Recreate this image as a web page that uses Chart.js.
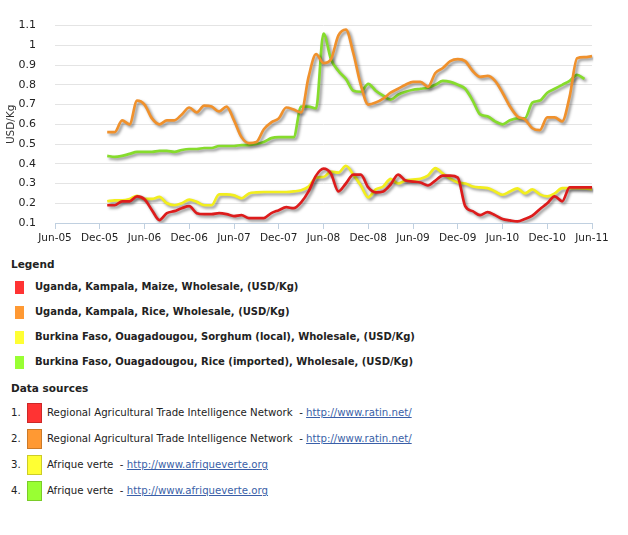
<!DOCTYPE html>
<html>
<head>
<meta charset="utf-8">
<script src="https://cdn.jsdelivr.net/npm/chart.js@4"></script>
<style>
    body { margin: 0; background: #fff; font-family: "DejaVu Sans", Verdana, sans-serif; color: #222; }
    #chartBox { position: relative; width: 628px; height: 252px; }
    #info { padding-left: 11px; font-size: 10px; }
    h4 { margin: 4px 0 0 0; font-size: 10.5px; line-height: 16px; font-weight: bold; }
    .legendRow { height: 25px; line-height: 25px; font-weight: bold; padding-left: 4px; }
    .legendRow .sw { display: inline-block; width: 9px; height: 13px; vertical-align: middle; margin-right: 11px; }
    #legendList { margin-top: 2px; }
    #sourceHead { margin-top: 6px; }
    #sourceList { margin-top: 4px; }
    .sourceRow { height: 26px; line-height: 26px; font-size: 10.2px; }
    .sourceRow .num { display: inline-block; width: 16px; }
    .sourceRow .sw { display: inline-block; width: 13px; height: 18px; vertical-align: middle; margin-right: 5px; border: 1px solid rgba(0,0,0,0.2); }
    .sourceRow a { color: #3a5fa8; }
</style>
</head>
<body>
<div id="chartBox"><canvas id="priceChart"></canvas></div>
<div id="info">
    <h4>Legend</h4>
    <div id="legendList"></div>
    <h4 id="sourceHead">Data sources</h4>
    <div id="sourceList"></div>
</div>
<script>
// x axis: every month from Jun-05 to Jun-11, labelled every six months
const monthNames = ['Jan', 'Feb', 'Mar', 'Apr', 'May', 'Jun', 'Jul', 'Aug', 'Sep', 'Oct', 'Nov', 'Dec'];
const axisMonths = [];
for (let y = 5; y <= 11; y++) {
    for (let m = 0; m < 12; m++) {
        if ((y === 5 && m < 5) || (y === 11 && m > 5)) continue;
        axisMonths.push(monthNames[m] + '-' + String(y).padStart(2, '0'));
    }
}
const tickLabels = ['Jun-05', 'Dec-05', 'Jun-06', 'Dec-06', 'Jun-07', 'Dec-07', 'Jun-08', 'Dec-08', 'Jun-09', 'Dec-09', 'Jun-10', 'Dec-10', 'Jun-11'];
const yTicks = [0.1, 0.2, 0.3, 0.4, 0.5, 0.6, 0.7, 0.8, 0.9, 1, 1.1];

// series run monthly from Jan-06 to Jun-11
const dataMonths = axisMonths.slice(axisMonths.indexOf('Jan-06'));

const ugMaize = [0.19, 0.19, 0.21, 0.21, 0.235, 0.22, 0.165, 0.115, 0.15, 0.16,
    0.175, 0.185, 0.15, 0.145, 0.145, 0.15, 0.145, 0.135, 0.14, 0.125,
    0.125, 0.125, 0.15, 0.165, 0.18, 0.175, 0.205, 0.26, 0.34, 0.375,
    0.35, 0.26, 0.30, 0.345, 0.345, 0.28, 0.255, 0.26, 0.295, 0.345,
    0.315, 0.31, 0.305, 0.29, 0.315, 0.34, 0.34, 0.33, 0.185, 0.16,
    0.14, 0.155, 0.14, 0.12, 0.113, 0.108, 0.12, 0.137, 0.17, 0.20,
    0.235, 0.21, 0.28, 0.28, 0.28, 0.28];

const ugRice = [0.56, 0.56, 0.62, 0.60, 0.72, 0.70, 0.63, 0.60, 0.62, 0.62,
    0.65, 0.685, 0.66, 0.695, 0.69, 0.665, 0.69, 0.62, 0.535, 0.505,
    0.51, 0.575, 0.61, 0.63, 0.685, 0.675, 0.66, 0.84, 0.955, 0.91,
    0.93, 1.05, 1.08, 0.96, 0.80, 0.70, 0.71, 0.73, 0.76, 0.78,
    0.80, 0.815, 0.815, 0.79, 0.86, 0.885, 0.92, 0.93, 0.92, 0.87,
    0.84, 0.845, 0.82, 0.76, 0.69, 0.64, 0.625, 0.58, 0.57, 0.635,
    0.635, 0.615, 0.74, 0.935, 0.94, 0.945];

const bfSorghum = [0.21, 0.215, 0.215, 0.222, 0.238, 0.222, 0.222, 0.232, 0.20, 0.19,
    0.20, 0.218, 0.207, 0.19, 0.19, 0.245, 0.245, 0.24, 0.225, 0.25,
    0.255, 0.257, 0.257, 0.257, 0.257, 0.26, 0.266, 0.285, 0.33, 0.333,
    0.36, 0.355, 0.39, 0.345, 0.29, 0.23, 0.27, 0.285, 0.324, 0.30,
    0.316, 0.32, 0.324, 0.34, 0.378, 0.35, 0.324, 0.305, 0.30, 0.285,
    0.28, 0.277, 0.26, 0.243, 0.26, 0.275, 0.25, 0.27, 0.245, 0.235,
    0.25, 0.277, 0.277, 0.277, 0.275, 0.272];

const bfRice = [0.44, 0.435, 0.44, 0.45, 0.46, 0.46, 0.46, 0.465, 0.465, 0.46,
    0.47, 0.475, 0.475, 0.48, 0.48, 0.49, 0.49, 0.49, 0.495, 0.495,
    0.50, 0.51, 0.53, 0.535, 0.535, 0.535, 0.69, 0.69, 0.68, 1.06,
    0.93, 0.87, 0.83, 0.77, 0.765, 0.805, 0.77, 0.745, 0.725, 0.75,
    0.765, 0.775, 0.78, 0.785, 0.80, 0.82, 0.815, 0.80, 0.78, 0.72,
    0.65, 0.64, 0.615, 0.60, 0.62, 0.63, 0.63, 0.71, 0.72, 0.76,
    0.78, 0.80, 0.82, 0.85, 0.83, null];

const seriesNames = [
    'Uganda, Kampala, Maize, Wholesale, (USD/Kg)',
    'Uganda, Kampala, Rice, Wholesale, (USD/Kg)',
    'Burkina Faso, Ouagadougou, Sorghum (local), Wholesale, (USD/Kg)',
    'Burkina Faso, Ouagadougou, Rice (imported), Wholesale, (USD/Kg)'
];
const seriesValues = [ugMaize, ugRice, bfSorghum, bfRice];
const lineColors = ['#dd1c1c', '#f0912c', '#f2ee1e', '#86dc2c'];
const swatchColors = ['#ff3333', '#ff9933', '#ffff33', '#99ff33'];
const sources = [
    ['Regional Agricultural Trade Intelligence Network', 'http://www.ratin.net/'],
    ['Regional Agricultural Trade Intelligence Network', 'http://www.ratin.net/'],
    ['Afrique verte', 'http://www.afriqueverte.org'],
    ['Afrique verte', 'http://www.afriqueverte.org']
];

// soft drop shadow under each line
const lineShadow = {
    id: 'lineShadow',
    beforeDatasetDraw(chart) {
        const c = chart.ctx;
        c.save();
        c.shadowColor = 'rgba(0, 0, 0, 0.45)';
        c.shadowBlur = 3;
        c.shadowOffsetX = 2;
        c.shadowOffsetY = 2;
    },
    afterDatasetDraw(chart) {
        chart.ctx.restore();
    }
};

const ctx = document.getElementById('priceChart').getContext('2d');
const priceChart = new Chart(ctx, {
    type: 'line',
    data: {
        labels: axisMonths,
        datasets: seriesValues.map((vals, i) => ({
            label: seriesNames[i],
            data: dataMonths.map((m, j) => ({ x: m, y: vals[j] })),
            borderColor: lineColors[i],
            borderWidth: 2.7,
            pointRadius: 0,
            fill: false,
            cubicInterpolationMode: 'monotone',
            spanGaps: false
        }))
    },
    options: {
        responsive: true,
        maintainAspectRatio: false,
        animation: false,
        layout: { padding: { top: 9, right: 36, left: 0, bottom: 0 } },
        plugins: {
            legend: { display: false },
            tooltip: { enabled: false }
        },
        scales: {
            x: {
                type: 'category',
                offset: false,
                border: { display: true, color: '#c0d0e0', width: 1 },
                grid: {
                    drawOnChartArea: false,
                    drawTicks: true,
                    tickLength: 6,
                    color: (c) => (c.tick && tickLabels.includes(c.tick.label) ? '#c0d0e0' : 'rgba(0,0,0,0)')
                },
                ticks: {
                    autoSkip: false,
                    maxRotation: 0,
                    padding: 3,
                    color: '#222',
                    font: { family: 'DejaVu Sans', size: 10.5 },
                    callback: function (v) {
                        const lab = this.getLabelForValue(v);
                        return tickLabels.includes(lab) ? lab : '';
                    }
                },
                afterFit: (scale) => { scale.height = 29; }
            },
            y: {
                min: yTicks[0],
                max: yTicks[yTicks.length - 1],
                border: { display: false },
                grid: { color: '#e4e4e4', drawTicks: false },
                ticks: {
                    stepSize: 0.1,
                    padding: 19,
                    color: '#222',
                    font: { family: 'DejaVu Sans', size: 11 },
                    callback: (v) => String(Math.round(v * 10) / 10)
                },
                title: {
                    display: true,
                    text: 'USD/Kg',
                    color: '#333',
                    font: { family: 'DejaVu Sans', size: 10.5 },
                    padding: { top: 5, bottom: 0 }
                },
                afterFit: (scale) => { scale.width = 55; }
            }
        }
    },
    plugins: [lineShadow]
});

// html legend and data sources under the chart
const legendList = document.getElementById('legendList');
seriesNames.forEach((name, i) => {
    const row = document.createElement('div');
    row.className = 'legendRow';
    row.innerHTML = `<span class="sw" style="background:${swatchColors[i]}"></span>${name}`;
    legendList.appendChild(row);
});
const sourceList = document.getElementById('sourceList');
sources.forEach(([org, url], i) => {
    const row = document.createElement('div');
    row.className = 'sourceRow';
    row.innerHTML = `<span class="num">${i + 1}.</span><span class="sw" style="background:${swatchColors[i]}"></span>${org}&nbsp; - <a href="${url}">${url}</a>`;
    sourceList.appendChild(row);
});
</script>
</body>
</html>
